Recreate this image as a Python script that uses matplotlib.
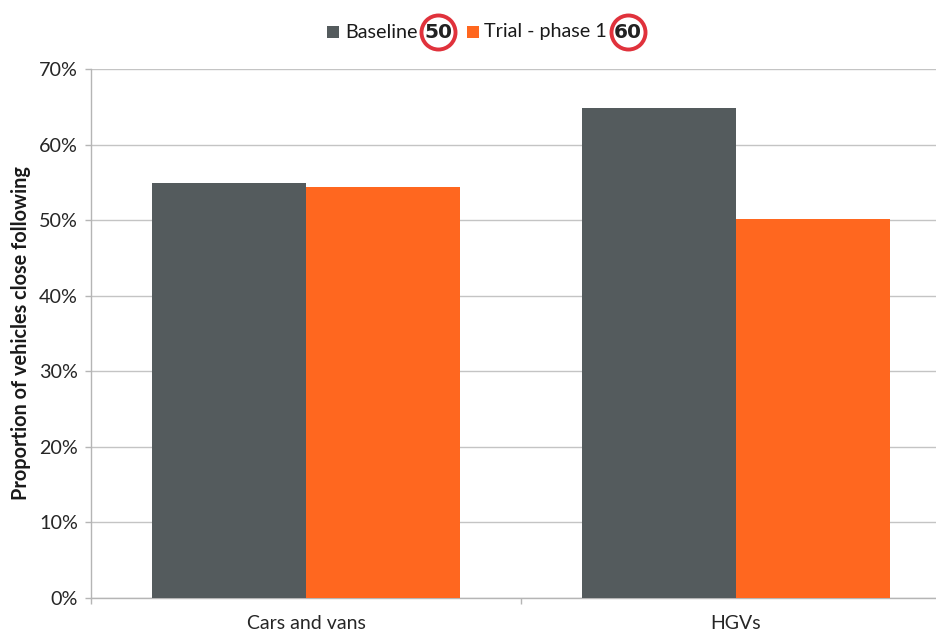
import matplotlib
matplotlib.use("Agg")
import matplotlib.pyplot as plt
from matplotlib.lines import Line2D
from matplotlib.patches import Rectangle

categories = ["Cars and vans", "HGVs"]
series_names = ["Baseline", "Trial - phase 1"]
baseline = [54.9, 64.9]
trial = [54.4, 50.1]
yticks = [0, 10, 20, 30, 40, 50, 60, 70]
signs = ["50", "60"]
colors = ["#545B5D", "#FF671F"]

W, H = 937, 632
plt.rcParams["font.family"] = ["Lato", "DejaVu Sans"]
fig = plt.figure(figsize=(W / 100, H / 100), dpi=100)
ax = fig.add_axes([91 / W, (H - 598) / H, 860 / W, 529 / H], clip_on=False)

bw = 0.357
xs = [0, 1]
ax.bar([x - bw / 2 for x in xs], baseline, bw, color=colors[0], zorder=3)
ax.bar([x + bw / 2 for x in xs], trial, bw, color=colors[1], zorder=3)

ax.set_xlim(-0.5, 1.5)
ax.set_ylim(0, 70)
ax.set_yticks(yticks)
ax.set_yticklabels([f"{v}%" for v in yticks], fontsize=14.2, color="#262626")
ax.set_xticks(xs)
ax.set_xticklabels(categories, fontsize=14, color="#262626")
ax.set_xticks([-0.5, 0.5, 1.5], minor=True)
ax.tick_params(axis="x", which="major", length=0, pad=12)
ax.tick_params(axis="x", which="minor", length=4.5, width=1, color="#B5B5B5")
ax.tick_params(axis="y", length=4.5, width=1, color="#B5B5B5", pad=5)
ax.grid(axis="y", color="#C4C4C4", lw=1, zorder=0)
ax.set_axisbelow(True)
for s in ["top", "right"]:
    ax.spines[s].set_visible(False)
for s in ["left", "bottom"]:
    ax.spines[s].set_color("#B5B5B5")
    ax.spines[s].set_linewidth(1)
ax.set_ylabel("Proportion of vehicles close following", fontsize=14.3,
              fontweight="bold", color="#1a1a1a")
ax.yaxis.set_label_coords(-60 / 860, 0.5)


def fx(px):
    return px / W


def fy(py):
    return (H - py) / H


legend_items = [(327, 345, 438), (467, 484, 628)]
for (sq, tx, cx), name, sign, c in zip(legend_items, series_names, signs, colors):
    fig.add_artist(Rectangle((fx(sq), fy(38)), 12 / W, 12 / H, color=c,
                             transform=fig.transFigure, lw=0))
    fig.text(fx(tx), fy(32), name, fontsize=14.2, color="#1a1a1a", va="center", ha="left")
    fig.add_artist(Line2D([fx(cx)], [fy(32)], marker="o", ms=24.5, mfc="white",
                          mec="#E0323C", mew=2.8, ls="none", transform=fig.transFigure))
    fig.text(fx(cx), fy(31), sign, fontsize=14.5, fontweight="bold", color="#222222",
             va="center_baseline", ha="center", family=["DejaVu Sans"])

fig.savefig("out.png", dpi=100)
